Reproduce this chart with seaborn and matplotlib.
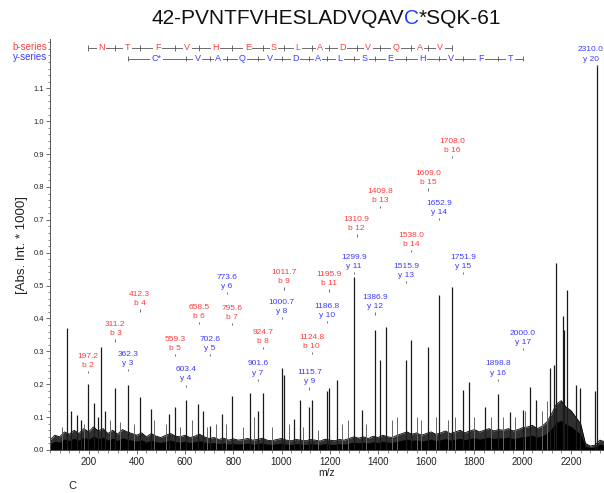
import numpy as np
import pandas as pd
import matplotlib
matplotlib.use("Agg")
import matplotlib.pyplot as plt
from matplotlib.ticker import MultipleLocator
import seaborn as sns

# ---------------- data ----------------
title_parts = ["42-PVNTFVHESLADVQAV", "C", "*SQK-61"]

# b-ion annotations
b_mz = [197.2, 311.2, 412.3, 559.3, 658.5, 795.6, 924.7, 1011.7, 1124.8,
        1195.9, 1310.9, 1409.8, 1538.0, 1609.0, 1708.0]
b_names = ["b 2", "b 3", "b 4", "b 5", "b 6", "b 7", "b 8", "b 9", "b 10",
           "b 11", "b 12", "b 13", "b 14", "b 15", "b 16"]
b_label_y = [0.237, 0.333, 0.425, 0.289, 0.386, 0.383, 0.310, 0.492, 0.295,
             0.486, 0.653, 0.739, 0.605, 0.793, 0.891]
b_residues = ["N", "T", "F", "V", "H", "E", "S", "L", "A", "D", "V", "Q", "A", "V"]

# y-ion annotations
y_mz = [362.3, 603.4, 702.6, 773.6, 901.6, 1000.7, 1115.7, 1186.8, 1299.9,
        1386.9, 1515.9, 1652.9, 1751.9, 1898.8, 2000.0, 2310.0]
y_names = ["y 3", "y 4", "y 5", "y 6", "y 7", "y 8", "y 9", "y 10", "y 11",
           "y 12", "y 13", "y 14", "y 15", "y 16", "y 17", "y 20"]
y_label_y = [0.243, 0.195, 0.289, 0.477, 0.213, 0.401, 0.188, 0.389, 0.538,
             0.416, 0.511, 0.702, 0.538, 0.213, 0.307, 1.168]
y_residues = ["C*", "V", "A", "Q", "V", "D", "A", "L", "S", "E", "H", "V", "F", "T"]
y_ladder_mz = y_mz[:15]

# spectrum peaks (m/z, intensity * 1000)
peak_mz = [112, 128, 150, 170, 197.2, 222, 240, 250, 270, 311.2, 362.3, 412.3,
           459, 532, 559.3, 603.4, 654, 675, 702.6, 753, 795.6, 871, 901.6,
           924.7, 1000.7, 1011.7, 1050, 1075, 1115.7, 1124.8, 1186.8, 1195.9,
           1229, 1299.9, 1335, 1386.9, 1409.8, 1433, 1515.9, 1538.0, 1609.0,
           1652.9, 1708.0, 1751.9, 1778, 1843, 1898.8, 1947, 2000.0, 2029,
           2054, 2112, 2129, 2140, 2165, 2170, 2184, 2223, 2236, 2300, 2310.0]
peak_int = [0.37, 0.12, 0.105, 0.09, 0.20, 0.143, 0.10, 0.314, 0.12, 0.19, 0.197,
            0.162, 0.126, 0.11, 0.132, 0.152, 0.14, 0.12, 0.073, 0.11, 0.164,
            0.174, 0.12, 0.174, 0.249, 0.228, 0.094, 0.152, 0.13, 0.152, 0.18,
            0.188, 0.213, 0.527, 0.122, 0.365, 0.274, 0.375, 0.274, 0.334,
            0.314, 0.471, 0.496, 0.182, 0.208, 0.13, 0.17, 0.117, 0.122, 0.192,
            0.152, 0.249, 0.26, 0.569, 0.407, 0.365, 0.488, 0.197, 0.188, 0.18,
            1.17]

small_mz = [90, 180, 290, 330, 390, 470, 520, 580, 630, 690, 730, 770, 840, 885,
            960, 1030, 1090, 1150, 1250, 1275, 1350, 1460, 1480, 1560, 1580,
            1640, 1690, 1720, 1800, 1870, 1920, 1970, 2010, 2080, 2100]
small_int = [0.07, 0.08, 0.09, 0.085, 0.08, 0.09, 0.08, 0.07, 0.09, 0.07, 0.08,
             0.08, 0.07, 0.10, 0.07, 0.08, 0.07, 0.06, 0.08, 0.09, 0.08, 0.09,
             0.10, 0.10, 0.09, 0.10, 0.09, 0.10, 0.10, 0.10, 0.10, 0.10, 0.12,
             0.12, 0.15]

noise_mz = list(range(40, 2341, 20))
noise_top = [0.030, 0.045, 0.040, 0.055, 0.048, 0.060, 0.050, 0.065, 0.055, 0.070,
             0.058, 0.065, 0.050, 0.060, 0.048, 0.062, 0.055, 0.050, 0.045, 0.052,
             0.040, 0.050, 0.042, 0.038, 0.045, 0.050, 0.042, 0.040, 0.045, 0.038,
             0.042, 0.048, 0.040, 0.035, 0.038, 0.032, 0.036, 0.030, 0.034, 0.030,
             0.032, 0.035, 0.030, 0.032, 0.036, 0.030, 0.028, 0.032, 0.035, 0.030,
             0.028, 0.032, 0.030, 0.028, 0.032, 0.030, 0.027, 0.033, 0.030, 0.028,
             0.032, 0.030, 0.035, 0.040, 0.036, 0.040, 0.035, 0.042, 0.038, 0.045,
             0.040, 0.038, 0.045, 0.050, 0.055, 0.048, 0.052, 0.045, 0.050, 0.055,
             0.048, 0.052, 0.058, 0.050, 0.055, 0.060, 0.052, 0.058, 0.062, 0.055,
             0.060, 0.065, 0.058, 0.062, 0.060, 0.065, 0.058, 0.062, 0.068, 0.070,
             0.075, 0.065, 0.072, 0.085, 0.110, 0.140, 0.150, 0.130, 0.120, 0.100,
             0.080, 0.020, 0.012, 0.015, 0.030, 0.025]

# ---------------- style ----------------
sns.set_theme(style="ticks")
plt.rcParams["font.family"] = ["Liberation Sans", "DejaVu Sans"]

RED = "#ff3c3c"
BLUE = "#3c3cff"
GRAY = "#555555"

fig = plt.figure(figsize=(6.04, 4.93), dpi=100)
ax = fig.add_axes([50 / 604, 43 / 493, 553.5 / 604, 411 / 493])

noise_df = pd.DataFrame({"mz": noise_mz, "top": noise_top})
ax.fill_between(noise_df["mz"], 0, noise_df["top"], color="#303030", lw=0)
ax.fill_between(noise_df["mz"], 0, noise_df["top"] * 0.6, color="black", lw=0)
sns.lineplot(data=noise_df, x="mz", y="top", ax=ax, color="black", lw=0.6)

ax.vlines(small_mz, 0, small_int, color="#666666", lw=0.7)
ax.vlines(peak_mz, 0, peak_int, color="#1a1a1a", lw=0.9)

ax.set_xlim(40, 2335)
ax.set_ylim(0, 1.25)
ax.xaxis.set_minor_locator(MultipleLocator(40))
ax.yaxis.set_minor_locator(MultipleLocator(0.02))
ax.set_yticks(np.arange(0, 1.15, 0.1))
ax.set_yticklabels([f"{v:.1f}" for v in np.arange(0, 1.15, 0.1)])
ax.set_xticks(range(200, 2201, 200))
ax.tick_params(axis="x", which="major", labelsize=7, length=3, width=0.6,
               color=GRAY, labelcolor="#222222", pad=2)
ax.tick_params(axis="y", which="major", labelsize=5.5, length=3, width=0.6,
               color=GRAY, labelcolor="#222222", pad=1.5)
ax.tick_params(which="minor", length=1.8, width=0.5, color=GRAY)
for s in ["left", "bottom"]:
    ax.spines[s].set_color(GRAY)
    ax.spines[s].set_linewidth(0.7)
ax.spines["top"].set_visible(False)
ax.spines["right"].set_color("#bbbbbb")
ax.spines["right"].set_linewidth(0.8)
ax.set_xlabel("m/z", fontsize=7.5, labelpad=1, color="#222222")
ax.set_ylabel("[Abs. Int. * 1000]", fontsize=9.5, labelpad=4, color="#222222")

# ---------------- ion annotations ----------------
def annotate_ions(mzs, names, ys, color, shift=None):
    for i, (m, n, yv) in enumerate(zip(mzs, names, ys)):
        dx = 0 if shift is None else shift[i]
        ax.vlines(m, yv - 0.004, yv + 0.004, color=GRAY, lw=0.6)
        ax.annotate(f"{m:.1f}", xy=(m, yv), xytext=(dx, 11.5), textcoords="offset points",
                    ha="center", va="center", fontsize=6, color=color)
        ax.annotate(n, xy=(m, yv), xytext=(dx, 5), textcoords="offset points",
                    ha="center", va="center", fontsize=6, color=color)

annotate_ions(b_mz, b_names, b_label_y, RED)
y_shift = [0] * (len(y_mz) - 1) + [-5]
annotate_ions(y_mz, y_names, y_label_y, BLUE, y_shift)

# ---------------- sequence ladders ----------------
def ladder(mzs, residues, yrow, color):
    ax.hlines(yrow, mzs[0], mzs[-1], color=GRAY, lw=0.6)
    ax.vlines(mzs, yrow - 0.008, yrow + 0.008, color=GRAY, lw=0.6)
    for a, b, r in zip(mzs[:-1], mzs[1:], residues):
        ax.text((a + b) / 2, yrow, r, ha="center", va="center", fontsize=6.5,
                color=color, bbox=dict(boxstyle="square,pad=0.15", fc="white", ec="none"))

ladder(b_mz, b_residues, 1.223, RED)
ladder(y_ladder_mz, y_residues, 1.190, BLUE)

fig.text(47 / 604, 1 - 47.5 / 493, "b-series", ha="right", va="center", fontsize=7, color=RED)
fig.text(47 / 604, 1 - 57.5 / 493, "y-series", ha="right", va="center", fontsize=7, color=BLUE)

# ---------------- title ----------------
fig.canvas.draw()
renderer = fig.canvas.get_renderer()
colors = ["#111111", "#2040ff", "#111111"]
texts = [fig.text(0, 1 - 18 / 493, p, ha="left", va="center", fontsize=15, color=c)
         for p, c in zip(title_parts, colors)]
widths = [t.get_window_extent(renderer).width / fig.bbox.width for t in texts]
x = 326.5 / 604 - sum(widths) / 2
for t, w in zip(texts, widths):
    t.set_x(x)
    x += w

fig.text(72 / 604, 1 - 486 / 493, "C", ha="center", va="center", fontsize=8, color="#222222")

fig.savefig("out.png", dpi=100)
